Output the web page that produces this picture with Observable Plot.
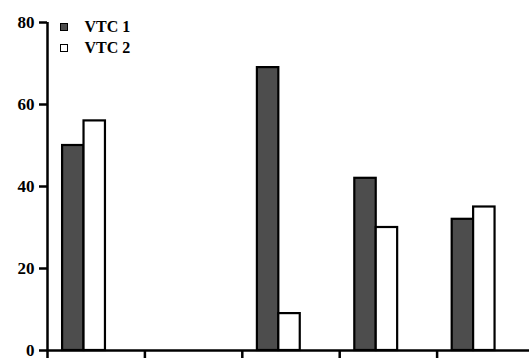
<!DOCTYPE html>
<html>
<head>
<meta charset="utf-8">
<script src="https://cdn.jsdelivr.net/npm/d3@7"></script>
<script src="https://cdn.jsdelivr.net/npm/@observablehq/plot@0.6"></script>
<style>
  html, body { margin: 0; padding: 0; background: #fff; overflow: hidden; }
  #wrap { position: relative; width: 529px; height: 358px; }
  .legend { position: absolute; left: 60px; top: 16px; font: bold 16px "Liberation Serif", serif; color: #000; }
  .legend .item { display: flex; align-items: center; height: 21px; }
  .legend .sw { width: 5.5px; height: 6px; border: 1.5px solid #000; margin-right: 17px; }
</style>
</head>
<body>
<div id="wrap"></div>
<script>
const groups = ["1", "2", "3", "4", "5"];
const seriesNames = ["VTC 1", "VTC 2"];
const vtc1 = [50, null, 69, 42, 32];
const vtc2 = [56, null, 9, 30, 35];
const yTicks = [0, 20, 40, 60, 80];
const colors = ["#4d4d4d", "#ffffff"];

const data = [];
[vtc1, vtc2].forEach((vals, si) => {
  vals.forEach((v, gi) => {
    if (v != null) data.push({group: groups[gi], gi, si, series: seriesNames[si], value: v});
  });
});

const offset = 0.155, bw = 0.22;

const chart = Plot.plot({
  width: 529,
  height: 358,
  marginLeft: 47,
  marginRight: -5,
  marginTop: 22,
  marginBottom: 8,
  style: {fontFamily: "'Liberation Serif', serif", fontSize: "17px", fontWeight: "bold", color: "#000", background: "#fff"},
  x: {domain: [0, groups.length], axis: null},
  y: {domain: [0, 80], axis: null},
  marks: [
    Plot.rectY(data, {
      x1: d => d.gi + offset + d.si * bw,
      x2: d => d.gi + offset + (d.si + 1) * bw,
      y1: 0,
      y2: "value",
      fill: d => colors[d.si],
      stroke: "#000",
      strokeWidth: 2.2
    }),
    Plot.axisY({ticks: yTicks, tickSize: 8, tickPadding: 5, strokeWidth: 2.5, tickFormat: d => d, fontWeight: "bold", label: null}),
    Plot.axisX({ticks: groups.map((g, i) => i), tickSize: 8, tickFormat: () => "", strokeWidth: 2.5, label: null}),
    Plot.ruleX([0], {y1: 0, y2: 80, strokeWidth: 2.5}),
    Plot.ruleY([0], {strokeWidth: 2.5})
  ]
});

const wrap = document.getElementById("wrap");
wrap.appendChild(chart);

const legend = document.createElement("div");
legend.className = "legend";
seriesNames.forEach((name, i) => {
  const item = document.createElement("div");
  item.className = "item";
  const sw = document.createElement("span");
  sw.className = "sw";
  sw.style.background = colors[i];
  const label = document.createElement("span");
  label.textContent = name;
  item.appendChild(sw);
  item.appendChild(label);
  legend.appendChild(item);
});
wrap.appendChild(legend);
</script>
</body>
</html>
